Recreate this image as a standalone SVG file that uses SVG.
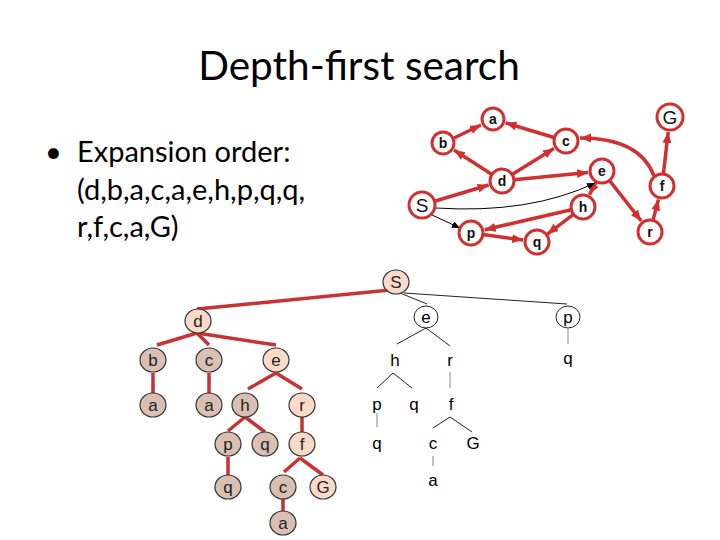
<svg xmlns="http://www.w3.org/2000/svg" width="720" height="540" viewBox="0 0 720 540">
<defs>
<marker id="ar" markerUnits="userSpaceOnUse" markerWidth="12" markerHeight="10" refX="11" refY="4.5" orient="auto"><path d="M0,0 L11,4.5 L0,9 z" fill="#d22f2f"/></marker>
<marker id="ab" markerUnits="userSpaceOnUse" markerWidth="9" markerHeight="8" refX="8" refY="3.5" orient="auto"><path d="M0,0 L8,3.5 L0,7 z" fill="#000"/></marker>
</defs>
<style>
.title{font-family:Lato,"Liberation Sans",sans-serif;font-size:40.5px;fill:#000}
.body{font-family:Lato,"Liberation Sans",sans-serif;font-size:29px;fill:#000}
.gn circle{fill:#fff;stroke:#d22f2f;stroke-width:3}
.gl{font-family:"Liberation Sans",Arial,sans-serif;font-size:14px;font-weight:bold;text-anchor:middle;fill:#111}
.ge{fill:none;stroke:#d22f2f;stroke-width:3.5;marker-end:url(#ar)}
.gb{fill:none;stroke:#000;stroke-width:1;}
.te{stroke:#c83232;stroke-width:3.5;fill:none}
.tn ellipse{stroke:#333;stroke-width:1.2}
.lt{fill:#f9dac8}
.dk{fill:#d9c0b2}
.tl{font-family:"Liberation Sans",Arial,sans-serif;font-size:17px;text-anchor:middle;fill:#222}
.rb{stroke:#222;stroke-width:1;fill:none}
.rg{stroke:#999;stroke-width:1.2;fill:none}
.rl{font-family:"Liberation Sans",Arial,sans-serif;font-size:17px;text-anchor:middle;fill:#000}
</style>
<rect width="720" height="540" fill="#fff"/>
<text class="title" x="359" y="80" text-anchor="middle">Depth-first search</text>
<text class="body" x="45" y="162">•</text>
<text class="body" x="77" y="162">Expansion order:</text>
<text class="body" x="77" y="200">(d,b,a,c,a,e,h,p,q,q,</text>
<text class="body" x="77" y="237">r,f,c,a,G)</text>

<g id="graph-edges">
<line class="ge" x1="454" y1="138" x2="481" y2="125"/>
<line class="ge" x1="554" y1="137.5" x2="505.5" y2="122.8"/>
<line class="ge" x1="492" y1="174.5" x2="454" y2="150"/>
<line class="ge" x1="512" y1="174.6" x2="554" y2="148.4"/>
<line class="ge" x1="514" y1="179.8" x2="588" y2="172.4"/>
<line class="ge" x1="435.4" y1="201" x2="488.6" y2="185"/>
<line class="ge" x1="596.4" y1="181.6" x2="589.5" y2="194.6"/>
<line class="ge" x1="609.4" y1="180.4" x2="641.3" y2="221"/>
<line class="ge" x1="571.3" y1="209.7" x2="484.6" y2="229.8"/>
<line class="ge" x1="573.4" y1="214.3" x2="547.4" y2="234.1"/>
<line class="ge" x1="483" y1="234.6" x2="523.1" y2="240.1"/>
<line class="ge" x1="653" y1="220.4" x2="658.5" y2="199.5"/>
<line class="ge" x1="663.4" y1="174" x2="668.2" y2="132"/>
<path class="ge" d="M654,176 Q640,138 580,138"/>
<path class="gb" d="M436,208 Q530,214 595,183" marker-end="url(#ab)"/>
<line class="gb" x1="432" y1="215" x2="460" y2="228" marker-end="url(#ab)"/>
</g>

<g id="gn-a" class="gn"><circle cx="493" cy="119" r="11"/><text class="gl" x="493" y="124">a</text></g>
<g id="gn-b" class="gn"><circle cx="443" cy="143" r="11"/><text class="gl" x="443" y="148">b</text></g>
<g id="gn-c" class="gn"><circle cx="566" cy="141" r="12"/><text class="gl" x="566" y="146">c</text></g>
<g id="gn-d" class="gn"><circle cx="502" cy="181" r="12"/><text class="gl" x="502" y="186">d</text></g>
<g id="gn-e" class="gn"><circle cx="602" cy="171" r="12"/><text class="gl" x="602" y="176">e</text></g>
<g id="gn-S" class="gn"><circle cx="422" cy="205" r="13"/><text class="gl" x="422" y="212" style="font-size:19px;font-weight:normal">S</text></g>
<g id="gn-h" class="gn"><circle cx="583" cy="207" r="12"/><text class="gl" x="583" y="212">h</text></g>
<g id="gn-p" class="gn"><circle cx="471" cy="233" r="12"/><text class="gl" x="471" y="238">p</text></g>
<g id="gn-q" class="gn"><circle cx="537" cy="242" r="12"/><text class="gl" x="537" y="247">q</text></g>
<g id="gn-r" class="gn"><circle cx="650" cy="232" r="12"/><text class="gl" x="650" y="237">r</text></g>
<g id="gn-f" class="gn"><circle cx="662" cy="186" r="12"/><text class="gl" x="662" y="191">f</text></g>
<g id="gn-G" class="gn"><circle cx="670" cy="117" r="13"/><text class="gl" x="670" y="124" style="font-size:19px;font-weight:normal">G</text></g>

<g id="tree-edges">
<line class="te" x1="390" y1="290" x2="197" y2="309"/>
<line class="te" x1="197" y1="333" x2="157" y2="345"/>
<line class="te" x1="197" y1="333" x2="209" y2="345"/>
<line class="te" x1="197" y1="333" x2="276" y2="345"/>
<line class="te" x1="153" y1="373" x2="153" y2="393"/>
<line class="te" x1="209" y1="373" x2="209" y2="393"/>
<line class="te" x1="276" y1="373" x2="248" y2="389"/>
<line class="te" x1="276" y1="373" x2="302" y2="389"/>
<line class="te" x1="245" y1="417" x2="228" y2="431"/>
<line class="te" x1="245" y1="417" x2="265" y2="432"/>
<line class="te" x1="302" y1="417" x2="302" y2="432"/>
<line class="te" x1="228" y1="457" x2="228" y2="475"/>
<line class="te" x1="300" y1="458" x2="284" y2="472"/>
<line class="te" x1="300" y1="458" x2="323" y2="475"/>
<line class="te" x1="283" y1="499" x2="283" y2="512"/>
<line class="rb" x1="400" y1="293" x2="427" y2="304"/>
<line class="rb" x1="404" y1="293" x2="567" y2="304"/>
<line class="rb" x1="426" y1="328" x2="397" y2="344"/>
<line class="rb" x1="426" y1="328" x2="450" y2="346"/>
<line class="rb" x1="393" y1="373" x2="377" y2="388"/>
<line class="rb" x1="393" y1="373" x2="412" y2="388"/>
<line class="rg" x1="450" y1="372" x2="450" y2="388"/>
<line class="rg" x1="377" y1="413" x2="377" y2="427"/>
<line class="rb" x1="450" y1="417" x2="433" y2="428"/>
<line class="rb" x1="450" y1="417" x2="472" y2="432"/>
<line class="rg" x1="433" y1="456" x2="433" y2="466"/>
<line class="rg" x1="568" y1="329" x2="568" y2="344"/>
</g>

<g id="t-S" class="tn"><ellipse class="lt" cx="396" cy="282" rx="13" ry="12"/><text class="tl" x="396" y="288">S</text></g>
<g id="t-d" class="tn"><ellipse class="lt" cx="198" cy="321" rx="13" ry="12"/><text class="tl" x="198" y="327">d</text></g>
<g id="t-b" class="tn"><ellipse class="dk" cx="153" cy="360" rx="13" ry="12"/><text class="tl" x="153" y="366">b</text></g>
<g id="t-c1" class="tn"><ellipse class="dk" cx="209" cy="360" rx="13" ry="12"/><text class="tl" x="209" y="366">c</text></g>
<g id="t-e" class="tn"><ellipse class="lt" cx="276" cy="360" rx="13" ry="12"/><text class="tl" x="276" y="366">e</text></g>
<g id="t-a1" class="tn"><ellipse class="dk" cx="153" cy="405" rx="13" ry="12"/><text class="tl" x="153" y="411">a</text></g>
<g id="t-a2" class="tn"><ellipse class="dk" cx="209" cy="405" rx="13" ry="12"/><text class="tl" x="209" y="411">a</text></g>
<g id="t-h" class="tn"><ellipse class="dk" cx="245" cy="405" rx="13" ry="12"/><text class="tl" x="245" y="411">h</text></g>
<g id="t-r" class="tn"><ellipse class="lt" cx="302" cy="405" rx="13" ry="12"/><text class="tl" x="302" y="411">r</text></g>
<g id="t-p" class="tn"><ellipse class="dk" cx="228" cy="444" rx="13" ry="12"/><text class="tl" x="228" y="450">p</text></g>
<g id="t-q1" class="tn"><ellipse class="dk" cx="265" cy="444" rx="13" ry="12"/><text class="tl" x="265" y="450">q</text></g>
<g id="t-f" class="tn"><ellipse class="lt" cx="302" cy="444" rx="13" ry="12"/><text class="tl" x="302" y="450">f</text></g>
<g id="t-q2" class="tn"><ellipse class="dk" cx="228" cy="487" rx="13" ry="12"/><text class="tl" x="228" y="493">q</text></g>
<g id="t-c2" class="tn"><ellipse class="dk" cx="283" cy="487" rx="13" ry="12"/><text class="tl" x="283" y="493">c</text></g>
<g id="t-G" class="tn"><ellipse class="lt" cx="323" cy="487" rx="13" ry="12"/><text class="tl" x="323" y="493">G</text></g>
<g id="t-a3" class="tn"><ellipse class="dk" cx="283" cy="523" rx="13" ry="12"/><text class="tl" x="283" y="529">a</text></g>

<g id="r-e"><ellipse cx="426" cy="317" rx="12" ry="11" fill="#fff" stroke="#222" stroke-width="1"/><text class="rl" x="426" y="323">e</text></g>
<g id="r-p"><ellipse cx="568" cy="317" rx="12" ry="11" fill="#fff" stroke="#222" stroke-width="1"/><text class="rl" x="568" y="323">p</text></g>
<g id="r-h"><text class="rl" x="395" y="366">h</text></g>
<g id="r-r"><text class="rl" x="450" y="366">r</text></g>
<g id="r-p2"><text class="rl" x="377" y="410">p</text></g>
<g id="r-q1"><text class="rl" x="414" y="410">q</text></g>
<g id="r-f"><text class="rl" x="451" y="410">f</text></g>
<g id="r-q2"><text class="rl" x="377" y="449">q</text></g>
<g id="r-c"><text class="rl" x="433" y="449">c</text></g>
<g id="r-G"><text class="rl" x="473" y="449">G</text></g>
<g id="r-a"><text class="rl" x="433" y="486">a</text></g>
<g id="r-q3"><text class="rl" x="568" y="364">q</text></g>
</svg>
